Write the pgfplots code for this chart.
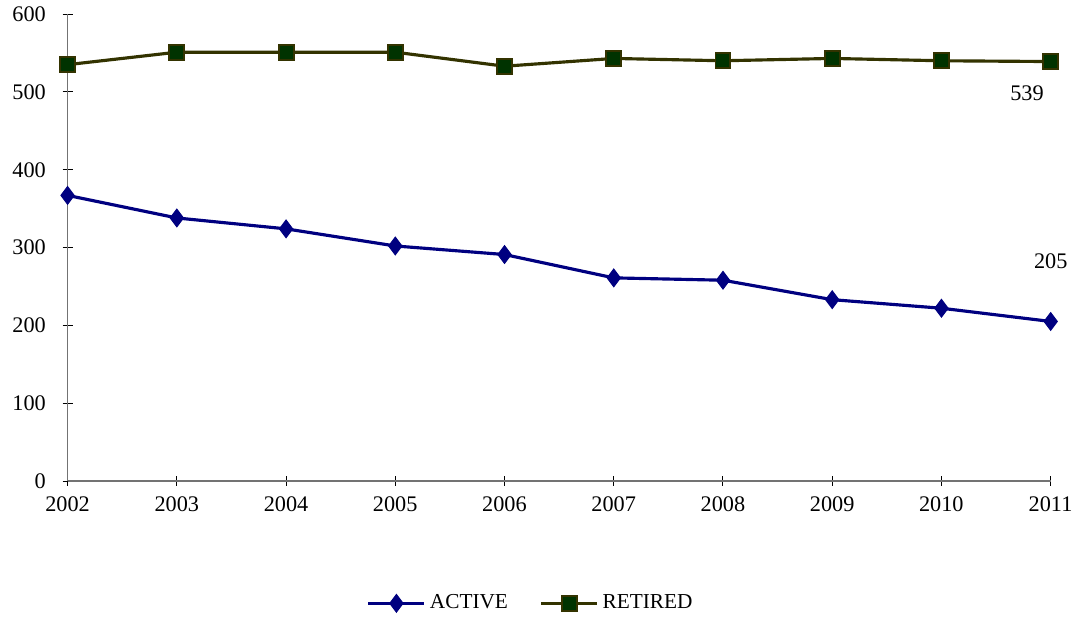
\documentclass[border=0pt]{standalone}
\usepackage{pgfplots}
\pgfplotsset{compat=1.18}
\usepackage{fontspec}
\setmainfont{Liberation Serif}
\definecolor{activec}{HTML}{000080}
\definecolor{retline}{HTML}{333300}
\definecolor{retfill}{HTML}{003300}
\begin{document}
\begin{tikzpicture}
\begin{axis}[
  scale only axis,
  width=499pt, height=237pt,
  xmin=2002, xmax=2011,
  ymin=0, ymax=600,
  xtick={2002,...,2011},
  ytick={0,100,...,600},
  axis lines=left,
  axis line style={-, draw=gray!90!black, line width=0.6pt},
  tick align=center,
  major tick length=5pt,
  tick style={black, line width=0.5pt},
  font=\fontsize{11.3}{13}\selectfont,
  /pgf/number format/assume math mode=true,
  xticklabel style={/pgf/number format/1000 sep=, yshift=-2pt},
  yticklabel style={xshift=-5pt},
  clip=false,
  legend style={at={(0.472,-0.262)}, anchor=center, draw=none,
    legend columns=2, font=\fontsize{10.8}{12}\selectfont,
    /tikz/every even column/.append style={column sep=14pt}},
  legend image code/.code={\draw[mark repeat=2, mark phase=2]
    plot coordinates {(0cm,0cm) (0.5cm,0cm) (1cm,0cm)};},
]
\addplot[activec, line width=1.6pt, mark=diamond*, mark size=4.5pt,
  mark options={fill=activec, draw=activec, line width=0.5pt}]
  coordinates {(2002,367) (2003,338) (2004,324) (2005,302) (2006,291)
    (2007,261) (2008,258) (2009,233) (2010,222) (2011,205)};
\addlegendentry{ACTIVE}
\addplot[retline, line width=1.6pt, mark=square*, mark size=3.8pt,
  mark options={fill=retfill, draw=retline, line width=1pt}]
  coordinates {(2002,535) (2003,551) (2004,551) (2005,551) (2006,533)
    (2007,543) (2008,540) (2009,543) (2010,540) (2011,539)};
\addlegendentry{RETIRED}
\node[anchor=center] at (axis cs:2011,539) [xshift=-12pt, yshift=-16pt] {539};
\node[anchor=center] at (axis cs:2011,205) [xshift=0pt, yshift=30.5pt] {205};
\end{axis}
\path ([xshift=-3pt]current bounding box.west) ([yshift=-3pt]current bounding box.south);
\end{tikzpicture}
\end{document}
